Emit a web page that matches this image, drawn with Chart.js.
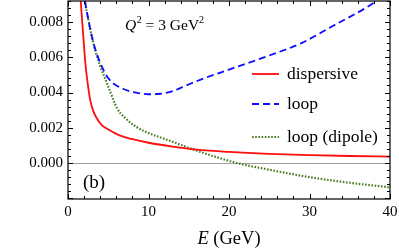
<!DOCTYPE html>
<html>
<head>
<meta charset="utf-8">
<script src="https://cdn.jsdelivr.net/npm/chart.js@4"></script>
<style>html,body{margin:0;padding:0;background:#fff}
#pre{position:absolute;left:-999px;top:0;font-family:"Liberation Serif";}</style>
</head>
<body>
<span id="pre">0.008 <i>E</i> (GeV)</span>
<canvas id="c" width="399" height="250"></canvas>
<script>
// valeurs (E en GeV)
const dispE = [1.45, 1.58, 1.75, 1.9, 2.15, 2.45, 2.75, 3.1, 3.5, 4.2, 5, 5.6, 6.5, 8, 10, 13, 16, 20, 25, 30, 35, 40];
const dispV = [0.0102, 0.0092, 0.0081, 0.0072, 0.0057, 0.0045, 0.0036, 0.0030, 0.0026, 0.00215, 0.0019, 0.00175, 0.00155, 0.00135, 0.00115, 0.00093, 0.00076, 0.00063, 0.00052, 0.00045, 0.0004, 0.00036];

const loopE = [2.0, 2.12, 2.5, 3.0, 3.5, 4.0, 4.6, 5.2, 6.0, 6.9, 7.8, 8.75, 10, 11.5, 13, 14.7, 16.4, 20, 25, 29, 33, 37, 39, 40.2];
const loopV = [0.0098, 0.0092, 0.0082, 0.0071, 0.0063, 0.0057, 0.0051, 0.0047, 0.0044, 0.0042, 0.00405, 0.00397, 0.0039, 0.00393, 0.00408, 0.0044, 0.00472, 0.0053, 0.0061, 0.0068, 0.0078, 0.0088, 0.0094, 0.0097];

const dipE = [2.0, 2.12, 2.5, 3.0, 3.5, 4.0, 4.6, 5.2, 6.1, 7, 8.5, 10, 11.5, 13, 15.5, 18, 21, 25, 30, 35, 40];
const dipV = [0.0098, 0.0092, 0.0082, 0.0071, 0.0062, 0.0055, 0.0048, 0.0041, 0.0031, 0.0026, 0.00205, 0.0017, 0.00145, 0.0012, 0.00078, 0.0004, 0.0, -0.00038, -0.0008, -0.00112, -0.00138];

const xTicks = [0, 10, 20, 30, 40];
const yTicks = [0, 0.002, 0.004, 0.006, 0.008];
const names = ['dispersive', 'loop', 'loop (dipole)'];

const SERIF = '"Liberation Serif", "Times New Roman", Times, serif';
const pts = (xs, ys) => xs.map((e, i) => ({x: e, y: ys[i]}));

const frame = {
  id: 'frame',
  beforeDatasetsDraw(chart) {
    const {ctx, chartArea: a, scales: {y}} = chart;
    ctx.save();
    ctx.strokeStyle = '#a0a0a0';
    ctx.lineWidth = 1;
    const y0 = Math.round(y.getPixelForValue(0)) + 0.5;
    ctx.beginPath(); ctx.moveTo(a.left, y0); ctx.lineTo(a.right, y0); ctx.stroke();
    ctx.restore();
  },
  afterDraw(chart) {
    const {ctx, chartArea: a, scales: {x, y}} = chart;
    ctx.save();
    ctx.strokeStyle = '#000';
    ctx.lineWidth = 1.2;
    ctx.strokeRect(a.left, a.top, a.right - a.left, a.bottom - a.top);
    ctx.lineWidth = 1;
    ctx.beginPath();
    // x ticks, bas et haut
    for (let k = 0; k <= 20; k++) {
      const px = Math.round(x.getPixelForValue(k * 2)) + 0.5;
      const len = k % 5 === 0 ? 5 : 3;
      ctx.moveTo(px, a.bottom); ctx.lineTo(px, a.bottom - len);
      ctx.moveTo(px, a.top); ctx.lineTo(px, a.top + len);
    }
    // y ticks, gauche et droite
    for (let k = -5; k <= 23; k++) {
      const py = Math.round(y.getPixelForValue(k * 0.0004)) + 0.5;
      if (py < a.top || py > a.bottom) continue;
      const len = k % 5 === 0 ? 5 : 3;
      ctx.moveTo(a.left, py); ctx.lineTo(a.left + len, py);
      ctx.moveTo(a.right, py); ctx.lineTo(a.right - len, py);
    }
    ctx.stroke();

    // légende
    const ds = chart.data.datasets;
    const rows = [74, 104, 137];
    ctx.textBaseline = 'middle';
    ctx.textAlign = 'left';
    ctx.font = '17.5px ' + SERIF;
    ds.forEach((d, i) => {
      ctx.strokeStyle = d.borderColor;
      ctx.lineWidth = d.borderWidth;
      ctx.setLineDash(d.borderDash || []);
      ctx.beginPath(); ctx.moveTo(252, rows[i]); ctx.lineTo(279, rows[i]); ctx.stroke();
      ctx.setLineDash([]);
      ctx.fillStyle = '#000';
      ctx.fillText(names[i], 287, rows[i]);
    });

    // Q^2 = 3 GeV^2
    ctx.textBaseline = 'alphabetic';
    let cx = 125, base = 30;
    ctx.font = 'italic 15.5px ' + SERIF;
    ctx.fillText('Q', cx, base); cx += ctx.measureText('Q').width + 0.5;
    ctx.font = '10px ' + SERIF;
    ctx.fillText('2', cx, base - 7); cx += ctx.measureText('2').width;
    ctx.font = '15.5px ' + SERIF;
    ctx.fillText(' = 3 GeV', cx, base); cx += ctx.measureText(' = 3 GeV').width;
    ctx.font = '10px ' + SERIF;
    ctx.fillText('2', cx, base - 7);

    // (b)
    ctx.font = '19px ' + SERIF;
    ctx.fillText('(b)', 83, 188);

    // titre de l'axe x
    ctx.font = 'italic 18.5px ' + SERIF;
    const w1 = ctx.measureText('E').width;
    ctx.font = '18.5px ' + SERIF;
    const w2 = ctx.measureText(' (GeV)').width;
    let tx = (a.left + a.right) / 2 - (w1 + w2) / 2;
    ctx.font = 'italic 18.5px ' + SERIF;
    ctx.fillText('E', tx, 244);
    ctx.font = '18.5px ' + SERIF;
    ctx.fillText(' (GeV)', tx + w1, 244);
    ctx.restore();
  }
};

function draw() {
  new Chart(document.getElementById('c'), {
    type: 'line',
    data: {
      datasets: [
        {data: pts(dispE, dispV), borderColor: '#ff0d0d', borderWidth: 1.8},
        {data: pts(loopE, loopV), borderColor: '#0d0dff', borderWidth: 1.8, borderDash: [7, 4]},
        {data: pts(dipE, dipV), borderColor: '#4a7d22', borderWidth: 2.2, borderDash: [1.6, 1.6]}
      ]
    },
    options: {
      responsive: false,
      animation: false,
      layout: {padding: {left: 0, right: 9, top: 1, bottom: 0}},
      elements: {point: {radius: 0}, line: {cubicInterpolationMode: 'monotone', fill: false}},
      plugins: {legend: {display: false}, tooltip: {enabled: false}},
      scales: {
        x: {
          type: 'linear', min: 0, max: 40,
          grid: {display: false, drawTicks: false}, border: {display: false},
          afterBuildTicks: s => { s.ticks = xTicks.map(v => ({value: v})); },
          afterFit: s => { s.height = 51; s.paddingLeft = 0; s.paddingRight = 0; },
          ticks: {padding: 4, color: '#000', font: {family: SERIF, size: 15}, maxRotation: 0}
        },
        y: {
          type: 'linear', min: -0.00204, max: 0.00919,
          grid: {display: false, drawTicks: false}, border: {display: false},
          afterBuildTicks: s => { s.ticks = yTicks.map(v => ({value: v})); },
          afterFit: s => { s.width = 68; s.paddingTop = 0; s.paddingBottom = 0; },
          ticks: {padding: 5, color: '#000', font: {family: SERIF, size: 15}, callback: v => v.toFixed(3)}
        }
      }
    },
    plugins: [frame]
  });
}
if (document.fonts && document.fonts.load) {
  Promise.all([
    document.fonts.load('15px "Liberation Serif"'),
    document.fonts.load('italic 15px "Liberation Serif"')
  ]).then(draw, draw);
} else {
  draw();
}
</script>
</body>
</html>
